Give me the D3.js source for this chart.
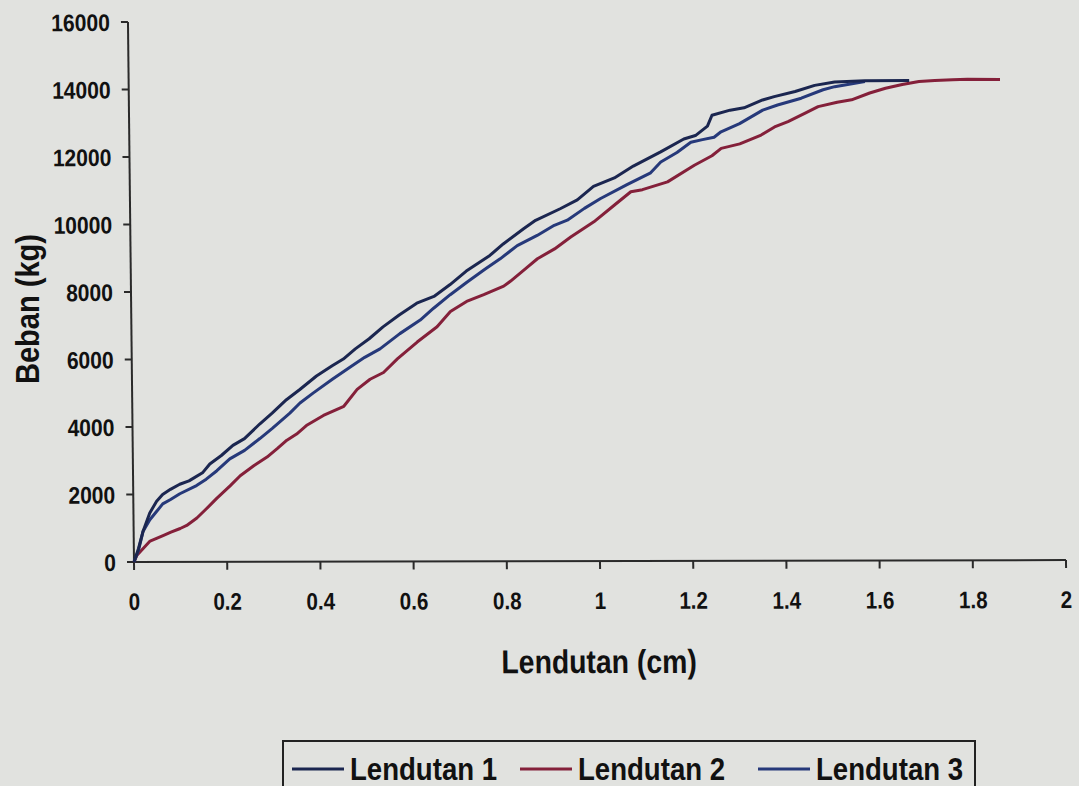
<!DOCTYPE html>
<html>
<head>
<meta charset="utf-8">
<script src="https://cdn.jsdelivr.net/npm/d3@7/dist/d3.min.js"></script>
<style>
  html, body { margin: 0; padding: 0; background: #e1e2df; }
  svg { display: block; }
  text { font-family: "Liberation Sans Narrow", "Arial Narrow", "Liberation Sans", Arial, sans-serif; font-weight: bold; fill: #111; }
</style>
</head>
<body>
<svg id="chart" width="1079" height="786"></svg>
<script>
// ---- data (deflection in cm, load in kg) ----
const seriesNames = ["Lendutan 1", "Lendutan 2", "Lendutan 3"];

const lendutan1X = [0, 0.01, 0.02, 0.035, 0.05, 0.063, 0.08, 0.10, 0.12, 0.15, 0.165, 0.19, 0.215, 0.24, 0.273, 0.30, 0.331, 0.36, 0.396, 0.43, 0.454, 0.48, 0.51, 0.54, 0.575, 0.613, 0.65, 0.685, 0.72, 0.771, 0.80, 0.844, 0.87, 0.923, 0.96, 0.995, 1.04, 1.081, 1.14, 1.19, 1.215, 1.241, 1.251, 1.29, 1.32, 1.36, 1.385, 1.43, 1.472, 1.515, 1.58, 1.675];
const lendutan1Y = [0, 400, 900, 1450, 1800, 2000, 2150, 2300, 2400, 2650, 2900, 3150, 3450, 3650, 4080, 4400, 4800, 5100, 5500, 5800, 6000, 6300, 6600, 6950, 7300, 7650, 7850, 8200, 8600, 9060, 9400, 9850, 10100, 10440, 10700, 11100, 11350, 11700, 12120, 12500, 12600, 12880, 13200, 13350, 13420, 13650, 13750, 13900, 14080, 14180, 14210, 14220];

const lendutan2X = [0, 0.006, 0.02, 0.035, 0.063, 0.08, 0.10, 0.114, 0.136, 0.155, 0.179, 0.208, 0.23, 0.26, 0.288, 0.31, 0.331, 0.352, 0.375, 0.41, 0.454, 0.483, 0.511, 0.54, 0.57, 0.613, 0.656, 0.685, 0.72, 0.757, 0.80, 0.815, 0.85, 0.873, 0.91, 0.945, 0.995, 1.039, 1.075, 1.10, 1.154, 1.212, 1.25, 1.27, 1.31, 1.356, 1.385, 1.414, 1.45, 1.479, 1.52, 1.551, 1.59, 1.624, 1.66, 1.696, 1.73, 1.768, 1.80, 1.87];
const lendutan2Y = [0, 190, 400, 620, 780, 880, 990, 1080, 1300, 1550, 1880, 2250, 2550, 2850, 3100, 3350, 3600, 3780, 4050, 4330, 4600, 5100, 5400, 5600, 6000, 6500, 6950, 7400, 7700, 7900, 8150, 8300, 8700, 8960, 9250, 9600, 10050, 10540, 10940, 11000, 11230, 11720, 12000, 12220, 12350, 12610, 12850, 13010, 13250, 13450, 13580, 13650, 13850, 13990, 14100, 14190, 14220, 14240, 14250, 14240];

const lendutan3X = [0, 0.01, 0.02, 0.035, 0.05, 0.063, 0.08, 0.10, 0.136, 0.157, 0.18, 0.208, 0.24, 0.273, 0.30, 0.338, 0.36, 0.389, 0.43, 0.468, 0.50, 0.533, 0.576, 0.62, 0.649, 0.685, 0.721, 0.76, 0.793, 0.83, 0.873, 0.91, 0.938, 0.975, 1.01, 1.067, 1.118, 1.14, 1.175, 1.205, 1.23, 1.255, 1.27, 1.31, 1.335, 1.36, 1.392, 1.443, 1.49, 1.515, 1.58];
const lendutan3Y = [0, 350, 900, 1250, 1500, 1720, 1850, 2020, 2260, 2450, 2700, 3050, 3300, 3650, 3950, 4400, 4700, 5000, 5400, 5760, 6050, 6300, 6750, 7150, 7500, 7900, 8270, 8650, 8960, 9350, 9650, 9950, 10100, 10450, 10740, 11150, 11500, 11820, 12100, 12400, 12480, 12550, 12710, 12950, 13150, 13350, 13500, 13700, 13950, 14040, 14190];

const xTicks = [0, 0.2, 0.4, 0.6, 0.8, 1, 1.2, 1.4, 1.6, 1.8, 2];
const yTicks = [0, 2000, 4000, 6000, 8000, 10000, 12000, 14000, 16000];
const colors = ["#1b2650", "#84203a", "#26397a"];

// ---- layout ----
const svg = d3.select("#chart");
const W = 932, H = 540;
const x = d3.scaleLinear().domain([0, 2]).range([0, W]);
const y = d3.scaleLinear().domain([0, 16000]).range([0, -H]);

// condensed bold text helper
function ctext(parent, tx, ty, sx, size, anchor, str, extra) {
  return parent.append("text")
    .attr("transform", `translate(${tx},${ty}) ${extra || ""} scale(${sx},1)`)
    .attr("x", 0).attr("y", 0)
    .attr("text-anchor", anchor).attr("font-size", size)
    .text(str);
}

// slight shear to mimic the photographed page
const g = svg.append("g").attr("transform", "translate(134,562) skewX(0.64) skewY(-0.12)");

// axes
const axisColor = "#2a2a2a";
g.append("line").attr("x1", 0).attr("x2", x(2)).attr("y1", 0).attr("y2", 0)
  .attr("stroke", axisColor).attr("stroke-width", 2);
g.append("line").attr("x1", 0).attr("x2", 0).attr("y1", 0).attr("y2", y(16000))
  .attr("stroke", axisColor).attr("stroke-width", 2);

g.selectAll(".xt").data(xTicks).enter().append("line")
  .attr("x1", d => x(d)).attr("x2", d => x(d)).attr("y1", 0).attr("y2", 8)
  .attr("stroke", axisColor).attr("stroke-width", 2);
g.selectAll(".yt").data(yTicks).enter().append("line")
  .attr("x1", -7).attr("x2", 0).attr("y1", d => y(d)).attr("y2", d => y(d))
  .attr("stroke", axisColor).attr("stroke-width", 2);

xTicks.forEach(d => ctext(g, x(d), 48, 0.86, 24, "middle", d3.format("")(d)));
yTicks.forEach(d => ctext(g, -18, y(d) + 9, 0.88, 24, "end", String(d)));

// titles
ctext(g, x(1) - 2, 112, 0.86, 33, "middle", "Lendutan (cm)");
ctext(svg, 39, 309, 0.88, 33, "middle", "Beban (kg)", "rotate(-90)");

// series
const seriesData = [
  d3.zip(lendutan1X, lendutan1Y),
  d3.zip(lendutan2X, lendutan2Y),
  d3.zip(lendutan3X, lendutan3Y)
];
const line = d3.line().x(d => x(d[0])).y(d => y(d[1]));
// draw order: 2, 3, 1 so the top navy curve sits on top
[1, 2, 0].forEach(i => {
  g.append("path").datum(seriesData[i])
    .attr("fill", "none").attr("stroke", colors[i])
    .attr("stroke-width", 3).attr("stroke-linejoin", "round")
    .attr("d", line);
});

// legend
const leg = svg.append("g").attr("transform", "translate(283,741)");
leg.append("rect").attr("x", 0).attr("y", 0).attr("width", 692).attr("height", 70)
  .attr("fill", "none").attr("stroke", "#222").attr("stroke-width", 2);
const legX = [9, 237, 475];
seriesNames.forEach((n, i) => {
  leg.append("line").attr("x1", legX[i]).attr("x2", legX[i] + 52)
    .attr("y1", 28).attr("y2", 28).attr("stroke", colors[i]).attr("stroke-width", 3);
  ctext(leg, legX[i] + 58, 39, 0.89, 31, "start", n);
});
</script>
</body>
</html>
